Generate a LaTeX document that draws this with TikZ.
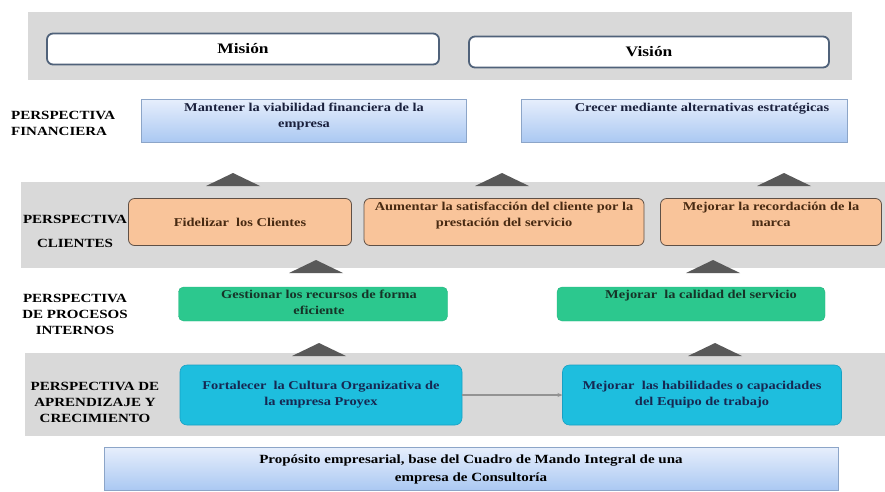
\documentclass[tikz,border=0pt]{standalone}
\usepackage{fontspec}
\setmainfont{Liberation Serif}[FakeStretch=1.2]
\usetikzlibrary{arrows.meta,positioning}
\definecolor{bandgray}{RGB}{217,217,217}
\definecolor{slate}{RGB}{80,98,122}
\definecolor{finedge}{RGB}{140,165,200}
\definecolor{fintop}{RGB}{230,238,252}
\definecolor{finbot}{RGB}{170,200,242}
\definecolor{peach}{RGB}{249,196,154}
\definecolor{peachedge}{RGB}{95,80,70}
\definecolor{mint}{RGB}{44,200,142}
\definecolor{skyblue}{RGB}{30,190,222}
\definecolor{skyedge}{RGB}{24,160,196}
\definecolor{wedgegray}{RGB}{89,89,89}
\definecolor{navyink}{RGB}{26,32,60}
\definecolor{brownink}{RGB}{72,42,18}
\definecolor{greenink}{RGB}{22,52,40}
\definecolor{blueink}{RGB}{22,40,82}
\newcommand\sidefont{\fontsize{12.5}{16}\bfseries\selectfont}
\newcommand\boxfont{\fontsize{12}{16}\bfseries\selectfont}
\tikzset{
  band/.style={fill=bandgray,draw=none},
  sidelabel/.style={font=\sidefont,align=center,inner sep=0pt},
  card/.style={inner sep=0pt,outer sep=0pt,align=center,font=\boxfont},
  headbox/.style={card,draw=slate,line width=1.8pt,rounded corners=6pt,fill=white,
    font=\fontsize{14.5}{17}\bfseries\selectfont},
  finbox/.style={card,draw=finedge,line width=0.8pt,top color=fintop,bottom color=finbot,text=navyink},
  clibox/.style={card,draw=peachedge,line width=0.8pt,rounded corners=6pt,fill=peach,text=brownink},
  procbox/.style={card,draw=mint!90!black,line width=0.4pt,rounded corners=5pt,fill=mint,text=greenink},
  aprbox/.style={card,draw=skyedge,line width=0.6pt,rounded corners=7pt,fill=skyblue,text=blueink},
  intext/.style={anchor=north,yshift=-3pt,inner sep=0pt,align=center,font=\boxfont},
  uparrow/.style={fill=wedgegray,draw=none},
  flowline/.style={draw=gray!85,line width=1.2pt,-{Stealth[length=5pt,width=4pt]}},
}
\begin{document}
\begin{tikzpicture}[x=1pt,y=-1pt]
  \useasboundingbox (0,0) rectangle (885,491);
  % grey bands
  \fill[band] (28,12) rectangle (852,80);
  \fill[band] (21,182) rectangle (885,268);
  \fill[band] (25,353) rectangle (885,436);

  % mision / vision
  \node[headbox,minimum width=392,minimum height=31] (mision) at (243,49) {Misión};
  \node[headbox,minimum width=360,minimum height=31] (vision) at (649,52) {Visión};

  % financiera
  \node[sidelabel,anchor=west,align=left] (lblfin) at (11,123) {PERSPECTIVA\\FINANCIERA};
  \node[finbox,minimum width=325,minimum height=43,
    label={[intext,text=navyink]north:Mantener la viabilidad financiera de la\\empresa}] (fin1) at (304,121) {};
  \node[finbox,minimum width=326,minimum height=43,
    label={[intext,text=navyink,xshift=18pt]north:Crecer mediante alternativas estratégicas}] (fin2) at (684,121) {};

  % clientes
  \node[sidelabel] (lblcli) at (75,231) {PERSPECTIVA\\[8pt]CLIENTES};
  \node[clibox,minimum width=223,minimum height=47] (cli1) at (240,222) {Fidelizar\ \ los Clientes};
  \node[clibox,minimum width=280,minimum height=47,
    label={[intext,text=brownink]north:Aumentar la satisfacción del cliente por la\\prestación del servicio}] (cli2) at (504,222) {};
  \node[clibox,minimum width=221,minimum height=47,
    label={[intext,text=brownink]north:Mejorar la recordación de la\\marca}] (cli3) at (771,222) {};

  % procesos internos
  \node[sidelabel] (lblproc) at (75,314) {PERSPECTIVA\\DE PROCESOS\\INTERNOS};
  \node[procbox,minimum width=269,minimum height=34,
    label={[intext,text=greenink,xshift=6pt]north:Gestionar los recursos de forma\\eficiente}] (proc1) at (313,304) {};
  \node[procbox,minimum width=268,minimum height=34,
    label={[intext,text=greenink,xshift=10pt]north:Mejorar\ \ la calidad del servicio}] (proc2) at (691,304) {};

  % aprendizaje y crecimiento
  \node[sidelabel] (lblapr) at (95,402) {PERSPECTIVA DE\\APRENDIZAJE Y\\CRECIMIENTO};
  \node[aprbox,minimum width=282,minimum height=60] (apr1) at (321,395)
    {Fortalecer\ \ la Cultura Organizativa de\\la empresa Proyex};
  \node[aprbox,minimum width=279,minimum height=60] (apr2) at (702,395)
    {Mejorar\ \ las habilidades o capacidades\\del Equipo de trabajo};
  \draw[flowline] (apr1) -- (apr2);

  % base
  \node[finbox,text=black,minimum width=734,minimum height=43,font=\fontsize{12.5}{18}\bfseries\selectfont]
    (base) at (471,469) {Propósito empresarial, base del Cuadro de Mando Integral de una\\empresa de Consultoría};

  % block arrows between levels
  \foreach \x/\y in {233/186,502/186,784/186,316/273,713/273,319/356,715/356}
    \fill[uparrow] (\x-27,\y) -- (\x,\y-13) -- (\x+27,\y) -- cycle;
\end{tikzpicture}
\end{document}
